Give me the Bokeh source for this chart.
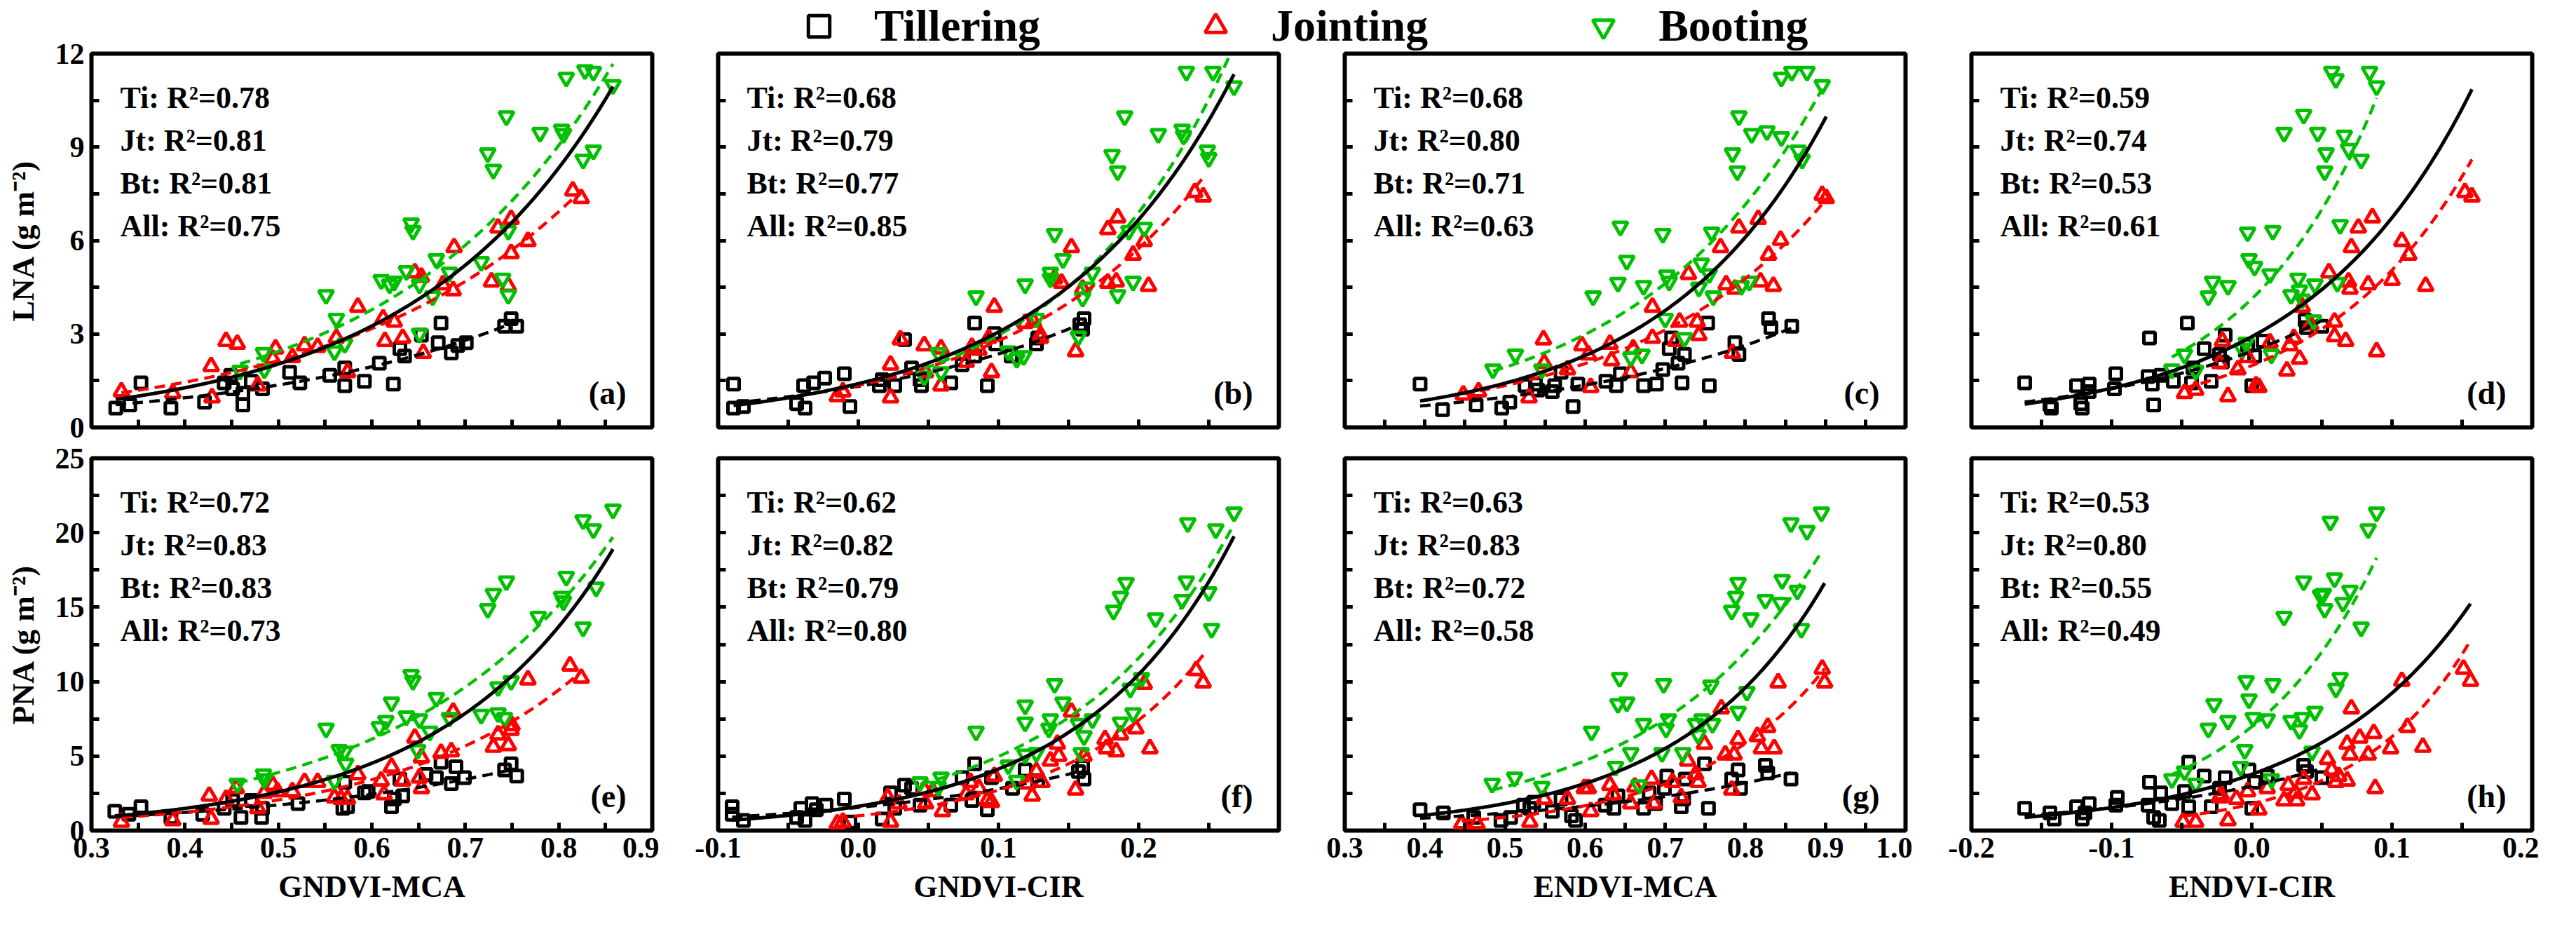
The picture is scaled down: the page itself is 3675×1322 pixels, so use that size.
import numpy as np
from bokeh.plotting import figure
from bokeh.layouts import column, row
from bokeh.models import (Label, Legend, LegendItem, SingleIntervalTicker,
                          NumeralTickFormatter, CustomJSTickFormatter)
from bokeh.embed import file_html
from bokeh.resources import INLINE

FONT = "Liberation Serif"
C_TI, C_JT, C_BT = "black", "#FF0000", "#00C000"

# ---------------- data (x, y) ----------------
# (a) LNA vs GNDVI-MCA
a_ti = [(0.326,0.62),(0.341,0.72),(0.353,1.43),(0.385,0.62),(0.421,0.81),(0.442,1.43),(0.449,1.67),(0.451,1.24),
        (0.462,0.72),(0.462,1.10),(0.471,1.48),(0.483,1.24),(0.512,1.77),(0.523,1.43),(0.555,1.67),(0.571,1.91),
        (0.571,1.34),(0.592,1.48),(0.608,2.06),(0.623,1.39),(0.630,2.53),(0.635,2.29),(0.653,2.96),(0.671,2.72),
        (0.674,3.35),(0.685,2.39),(0.692,2.63),(0.701,2.72),(0.742,3.25),(0.749,3.49),(0.755,3.25)]
a_jt = [(0.332,1.15),(0.387,1.10),(0.428,1.96),(0.429,0.96),(0.444,2.77),(0.456,2.68),(0.478,1.34),(0.494,2.20),
        (0.497,2.53),(0.515,2.25),(0.528,2.63),(0.542,2.58),(0.562,2.87),(0.574,1.77),(0.585,3.87),(0.612,3.49),
        (0.614,2.77),(0.624,3.39),(0.633,2.87),(0.646,4.97),(0.653,4.83),(0.655,2.39),(0.676,4.59),(0.687,4.40),
        (0.688,5.78),(0.728,4.68),(0.735,6.41),(0.749,5.59),(0.749,6.69),(0.746,4.54),(0.767,5.98),(0.815,7.60),
        (0.824,7.36)]
a_bt = [(0.459,1.82),(0.484,2.39),(0.485,1.86),(0.551,4.25),(0.562,3.49),(0.560,2.44),(0.571,2.68),(0.610,4.73),
        (0.619,4.59),(0.624,4.68),(0.637,5.02),(0.642,6.55),(0.644,6.31),(0.651,4.59),(0.651,3.01),(0.665,4.21),
        (0.669,5.40),(0.683,4.97),(0.717,5.31),(0.724,8.80),(0.730,8.27),(0.740,4.78),(0.744,9.99),(0.746,4.25),
        (0.746,6.31),(0.780,9.46),(0.803,9.56),(0.805,9.42),(0.808,11.23),(0.828,11.47),(0.837,11.42),(0.826,8.60),
        (0.837,8.89),(0.858,10.99)]

# (b) LNA vs GNDVI-CIR
b_ti = [(-0.089,1.39),(-0.089,0.62),(-0.082,0.67),(-0.044,0.76),(-0.039,1.34),(-0.038,0.62),(-0.032,1.43),
        (-0.024,1.58),(-0.010,1.72),(-0.006,0.67),(0.015,1.34),(0.017,1.53),(0.026,1.34),(0.033,2.82),(0.038,1.91),
        (0.045,1.34),(0.044,1.53),(0.066,1.43),(0.074,2.01),(0.083,3.35),(0.083,2.29),(0.092,1.34),(0.097,3.01),
        (0.098,2.68),(0.109,2.29),(0.127,2.68),(0.128,2.87),(0.158,3.30),(0.161,3.49),(0.160,3.15)]
b_jt = [(-0.015,1.00),(-0.011,1.15),(0.023,2.01),(0.023,0.96),(0.030,2.82),(0.047,2.63),(0.048,1.77),(0.059,2.53),
        (0.059,1.34),(0.077,2.10),(0.081,2.58),(0.086,2.49),(0.093,2.87),(0.095,1.77),(0.097,3.87),(0.119,3.35),
        (0.125,3.39),(0.130,2.96),(0.130,2.87),(0.140,4.78),(0.145,4.64),(0.152,5.78),(0.155,2.44),(0.160,4.45),
        (0.178,4.64),(0.178,6.36),(0.184,4.68),(0.185,6.74),(0.196,5.54),(0.204,5.98),(0.207,4.54),(0.240,7.55),
        (0.246,7.41)]
b_bt = [(0.047,1.63),(0.057,2.39),(0.059,1.77),(0.084,4.21),(0.107,2.44),(0.113,2.20),(0.118,2.29),(0.119,4.59),
        (0.127,3.49),(0.137,4.97),(0.137,4.78),(0.140,6.21),(0.146,5.40),(0.157,2.92),(0.160,4.16),(0.163,4.49),
        (0.167,4.97),(0.181,8.75),(0.185,8.22),(0.185,4.25),(0.190,9.99),(0.193,6.31),(0.196,4.68),(0.204,6.41),
        (0.214,9.42),(0.231,9.56),(0.232,9.37),(0.234,11.42),(0.249,8.89),(0.250,8.65),(0.253,11.42),(0.268,10.95)]

# (c) LNA vs ENDVI-MCA
c_ti = [(0.394,1.39),(0.422,0.57),(0.464,0.72),(0.496,0.62),(0.506,0.81),(0.525,1.34),(0.538,1.39),(0.541,1.20),
        (0.559,1.15),(0.562,1.34),(0.570,1.77),(0.585,0.67),(0.591,1.39),(0.626,1.48),(0.639,1.34),(0.644,1.72),
        (0.673,1.34),(0.689,1.39),(0.697,1.86),(0.705,2.53),(0.708,2.87),(0.716,2.06),(0.724,2.34),(0.721,1.43),
        (0.753,3.35),(0.755,1.34),(0.787,2.72),(0.792,2.34),(0.829,3.49),(0.832,3.20),(0.858,3.25)]
c_jt = [(0.448,1.05),(0.467,1.15),(0.530,0.96),(0.548,2.82),(0.549,2.06),(0.578,1.86),(0.596,2.63),(0.604,2.34),
        (0.607,1.29),(0.631,2.68),(0.633,2.15),(0.657,1.77),(0.660,2.53),(0.684,3.87),(0.684,2.87),(0.713,2.77),
        (0.718,3.39),(0.729,4.92),(0.740,3.39),(0.742,2.96),(0.769,5.78),(0.776,4.59),(0.784,2.39),(0.787,4.45),
        (0.792,6.41),(0.816,6.69),(0.819,4.68),(0.829,5.54),(0.835,4.54),(0.844,6.02),(0.896,7.46),(0.901,7.36)]
c_bt = [(0.485,1.86),(0.513,2.34),(0.546,1.86),(0.610,4.21),(0.641,4.64),(0.644,6.45),(0.652,5.35),(0.657,2.25),
        (0.671,2.34),(0.673,4.54),(0.697,6.21),(0.700,3.49),(0.702,4.88),(0.705,4.68),(0.724,2.87),(0.742,4.49),
        (0.745,5.26),(0.755,4.92),(0.758,6.26),(0.760,4.21),(0.784,8.80),(0.790,8.22),(0.792,9.99),(0.795,4.54),
        (0.805,4.68),(0.808,9.42),(0.827,9.51),(0.845,11.23),(0.845,9.32),(0.858,11.42),(0.866,8.89),(0.871,8.60),
        (0.877,11.42),(0.896,10.99)]

# (d) LNA vs ENDVI-CIR
d_ti = [(-0.162,1.43),(-0.144,0.72),(-0.143,0.62),(-0.125,1.34),(-0.122,0.76),(-0.121,0.62),(-0.116,1.39),
        (-0.116,1.15),(-0.097,1.72),(-0.098,1.24),(-0.074,1.63),(-0.073,2.87),(-0.071,1.39),(-0.070,0.72),
        (-0.065,1.67),(-0.056,1.48),(-0.046,3.35),(-0.042,1.91),(-0.043,1.43),(-0.034,2.53),(-0.029,1.48),
        (-0.023,2.34),(-0.021,2.10),(-0.019,2.96),(-0.003,2.63),(0.000,1.34),(0.002,2.29),(0.008,2.77),
        (0.038,3.44),(0.039,3.20),(0.050,3.25)]
d_jt = [(-0.048,1.10),(-0.040,1.20),(-0.023,2.06),(-0.021,2.77),(-0.017,1.00),(-0.010,1.86),(-0.003,2.25),
        (0.003,1.34),(0.005,1.29),(0.013,2.72),(0.025,1.82),(0.027,2.63),(0.030,2.87),(0.034,2.20),(0.036,3.87),
        (0.042,3.30),(0.055,4.97),(0.059,2.92),(0.059,3.39),(0.067,2.77),(0.069,4.68),(0.070,4.45),(0.071,5.78),
        (0.076,6.41),(0.083,4.59),(0.086,6.74),(0.089,2.44),(0.100,4.73),(0.107,5.98),(0.112,5.54),(0.124,4.54),
        (0.152,7.55),(0.157,7.41)]
d_bt = [(-0.057,1.86),(-0.048,2.34),(-0.040,1.82),(-0.031,4.21),(-0.028,4.68),(-0.017,4.54),(-0.007,2.53),
        (-0.004,2.72),(-0.003,6.26),(-0.002,5.40),(0.002,5.16),(0.013,4.92),(0.014,2.34),(0.015,6.31),(0.023,9.46),
        (0.028,4.25),(0.033,4.78),(0.034,4.40),(0.036,4.11),(0.037,10.04),(0.044,3.44),(0.045,4.59),(0.047,9.46),
        (0.052,8.22),(0.053,8.80),(0.057,11.42),(0.060,11.18),(0.061,4.64),(0.063,6.50),(0.066,9.37),(0.069,8.94),
        (0.078,8.60),(0.084,11.42),(0.089,10.95)]

# (e) PNA vs GNDVI-MCA
e_ti = [(0.325,1.30),(0.340,1.09),(0.353,1.60),(0.385,0.88),(0.419,1.09),(0.442,1.50),(0.451,2.02),(0.460,0.88),
        (0.471,2.02),(0.482,0.88),(0.483,1.50),(0.521,1.81),(0.569,1.50),(0.571,3.25),(0.574,1.60),(0.592,2.53),
        (0.596,2.63),(0.621,1.60),(0.624,2.12),(0.633,2.33),(0.630,3.46),(0.658,3.77),(0.669,3.56),(0.674,4.59),
        (0.685,3.15),(0.690,4.28),(0.699,3.56),(0.742,4.07),(0.749,4.49),(0.755,3.66)]
e_jt = [(0.332,0.58),(0.387,0.68),(0.426,2.33),(0.428,0.78),(0.444,2.12),(0.455,2.84),(0.478,1.50),(0.485,2.53),
        (0.494,3.05),(0.499,2.63),(0.515,2.63),(0.528,3.25),(0.542,3.25),(0.560,2.22),(0.567,2.12),(0.574,2.12),
        (0.585,3.77),(0.610,3.35),(0.613,2.43),(0.621,4.28),(0.633,3.35),(0.646,6.23),(0.651,3.56),(0.653,2.84),
        (0.653,4.90),(0.674,5.21),(0.687,7.98),(0.685,5.31),(0.730,5.62),(0.735,6.44),(0.746,5.72),(0.749,6.75),
        (0.750,7.06),(0.767,10.14),(0.812,11.07),(0.824,10.25)]
e_bt = [(0.456,3.15),(0.484,3.77),(0.485,3.46),(0.551,6.85),(0.560,3.35),(0.565,5.41),(0.571,5.31),(0.572,4.49),
        (0.608,6.95),(0.615,7.37),(0.621,8.60),(0.637,7.67),(0.642,10.45),(0.644,10.04),(0.649,5.41),(0.651,7.47),
        (0.662,6.65),(0.669,8.91),(0.683,7.57),(0.717,7.78),(0.724,14.88),(0.730,15.90),(0.735,7.88),(0.735,9.63),
        (0.742,7.57),(0.744,16.73),(0.749,10.04),(0.778,14.36),(0.803,15.70),(0.808,17.04),(0.805,15.39),
        (0.826,13.64),(0.826,20.84),(0.837,20.23),(0.840,16.32),(0.858,21.56)]

# (f) PNA vs GNDVI-CIR
f_ti = [(-0.090,1.60),(-0.090,1.09),(-0.082,0.68),(-0.044,0.88),(-0.041,1.50),(-0.038,0.68),(-0.033,1.81),
        (-0.030,1.40),(-0.023,1.71),(-0.010,2.12),(-0.006,0.58),(0.017,0.78),(0.023,2.53),(0.026,1.50),(0.033,3.05),
        (0.038,2.84),(0.044,1.71),(0.066,1.71),(0.074,3.56),(0.081,2.02),(0.083,4.49),(0.092,1.40),(0.095,3.56),
        (0.110,2.84),(0.119,4.07),(0.128,3.35),(0.157,3.97),(0.160,4.28),(0.161,3.46)]
f_jt = [(-0.015,0.47),(-0.011,0.58),(0.021,2.22),(0.023,0.58),(0.029,1.81),(0.047,2.74),(0.048,1.81),(0.053,2.63),
        (0.060,1.30),(0.077,2.43),(0.080,3.25),(0.086,2.84),(0.092,2.02),(0.095,1.91),(0.097,3.66),(0.121,3.15),
        (0.124,2.33),(0.127,3.97),(0.131,3.25),(0.137,4.69),(0.142,5.82),(0.143,5.00),(0.152,7.98),(0.155,2.74),
        (0.161,5.00),(0.176,6.13),(0.177,5.51),(0.184,5.31),(0.187,6.44),(0.198,6.85),(0.204,9.84),(0.208,5.51),
        (0.241,10.76),(0.246,9.94)]
f_bt = [(0.044,3.25),(0.057,2.94),(0.059,3.56),(0.084,6.65),(0.107,4.38),(0.113,3.35),(0.119,5.10),(0.119,7.26),
        (0.119,8.40),(0.127,5.21),(0.136,6.85),(0.137,7.47),(0.140,9.84),(0.146,8.60),(0.157,7.16),(0.159,5.21),
        (0.161,6.34),(0.167,7.47),(0.182,14.77),(0.187,15.70),(0.187,7.26),(0.191,16.63),(0.194,9.53),(0.196,7.88),
        (0.202,10.25),(0.212,14.25),(0.231,15.49),(0.234,16.73),(0.235,20.64),(0.250,16.01),(0.252,13.54),
        (0.255,20.23),(0.268,21.36)]

# (g) PNA vs ENDVI-MCA
g_ti = [(0.394,1.40),(0.423,1.19),(0.461,0.88),(0.495,0.68),(0.507,0.88),(0.523,1.71),(0.531,1.50),(0.536,1.91),
        (0.559,1.30),(0.570,2.12),(0.583,0.99),(0.588,0.68),(0.625,1.71),(0.636,1.50),(0.641,2.33),(0.673,1.50),
        (0.680,2.53),(0.688,1.81),(0.699,2.84),(0.702,3.66),(0.720,1.60),(0.723,2.12),(0.725,3.46),(0.749,4.49),
        (0.754,1.50),(0.783,3.46),(0.791,4.07),(0.794,2.84),(0.825,4.38),(0.828,3.87),(0.857,3.46)]
g_jt = [(0.446,0.47),(0.465,0.47),(0.531,0.58),(0.549,2.12),(0.578,2.12),(0.599,2.84),(0.604,2.84),(0.607,1.30),
        (0.631,3.05),(0.635,2.43),(0.657,1.81),(0.662,2.94),(0.683,3.46),(0.686,1.81),(0.709,3.25),(0.720,2.22),
        (0.728,4.69),(0.738,3.77),(0.741,3.25),(0.749,5.82),(0.770,8.19),(0.775,5.10),(0.783,2.74),(0.786,5.10),
        (0.791,6.13),(0.815,6.34),(0.820,5.51),(0.828,6.95),(0.836,5.51),(0.841,9.94),(0.896,10.86),(0.899,9.94)]
g_bt = [(0.484,3.15),(0.512,3.56),(0.546,2.94),(0.608,6.65),(0.638,4.28),(0.641,8.50),(0.643,10.25),(0.652,8.60),
        (0.657,5.21),(0.667,3.05),(0.673,7.16),(0.696,5.21),(0.698,9.84),(0.701,6.85),(0.704,7.47),(0.722,5.21),
        (0.738,7.16),(0.741,6.44),(0.746,7.47),(0.757,9.74),(0.759,7.16),(0.783,14.77),(0.788,15.70),(0.791,16.63),
        (0.791,7.98),(0.802,9.32),(0.807,14.25),(0.825,15.49),(0.844,15.29),(0.846,16.83),(0.857,20.64),
        (0.865,16.11),(0.870,13.54),(0.877,20.12),(0.895,21.36)]

# (h) PNA vs ENDVI-CIR
h_ti = [(-0.162,1.50),(-0.144,1.19),(-0.141,0.78),(-0.125,1.60),(-0.121,0.78),(-0.119,1.19),(-0.116,1.81),
        (-0.097,1.71),(-0.096,2.22),(-0.074,1.71),(-0.073,3.25),(-0.070,0.88),(-0.066,0.68),(-0.065,2.53),
        (-0.057,1.81),(-0.048,2.63),(-0.045,4.59),(-0.045,1.60),(-0.034,3.66),(-0.029,1.60),(-0.023,2.84),
        (-0.019,3.56),(-0.002,4.07),(0.000,1.50),(0.002,3.25),(0.011,3.66),(0.037,4.38),(0.039,3.97),(0.050,3.56)]
h_jt = [(-0.049,0.58),(-0.040,0.58),(-0.023,2.22),(-0.022,2.43),(-0.017,0.68),(-0.011,2.12),(-0.003,2.63),
        (0.005,1.40),(0.011,2.84),(0.023,2.02),(0.026,3.05),(0.031,2.53),(0.032,2.02),(0.037,3.46),(0.043,2.43),
        (0.054,4.79),(0.057,4.07),(0.060,3.25),(0.062,3.66),(0.068,3.35),(0.068,5.82),(0.070,5.10),(0.071,8.19),
        (0.077,6.23),(0.083,5.10),(0.087,6.54),(0.088,2.84),(0.099,5.51),(0.107,10.04),(0.111,6.95),(0.122,5.62),
        (0.151,10.86),(0.156,10.04)]
h_bt = [(-0.057,3.46),(-0.048,3.97),(-0.040,3.15),(-0.031,6.85),(-0.027,8.50),(-0.017,7.37),(-0.008,4.28),
        (-0.005,5.41),(-0.004,10.04),(-0.002,8.81),(0.001,7.57),(0.011,7.47),(0.014,3.46),(0.015,9.84),(0.023,14.36),
        (0.028,7.37),(0.034,6.75),(0.036,7.57),(0.037,16.73),(0.043,5.31),(0.045,7.98),(0.049,15.80),(0.051,15.90),
        (0.052,14.88),(0.056,20.74),(0.059,16.93),(0.060,9.53),(0.063,10.25),(0.065,15.29),(0.070,16.11),
        (0.078,13.64),(0.083,20.23),(0.089,21.36)]

# R^2 for Ti, Jt, Bt, All
r2_a = ["0.78", "0.81", "0.81", "0.75"]
r2_b = ["0.68", "0.79", "0.77", "0.85"]
r2_c = ["0.68", "0.80", "0.71", "0.63"]
r2_d = ["0.59", "0.74", "0.53", "0.61"]
r2_e = ["0.72", "0.83", "0.83", "0.73"]
r2_f = ["0.62", "0.82", "0.79", "0.80"]
r2_g = ["0.63", "0.83", "0.72", "0.58"]
r2_h = ["0.53", "0.80", "0.55", "0.49"]

x_names = ["GNDVI-MCA", "GNDVI-CIR", "ENDVI-MCA", "ENDVI-CIR"]
x_ranges = [(0.3, 0.9), (-0.1, 0.3), (0.3, 1.0), (-0.2, 0.2)]
stage_names = ["Tillering", "Jointing", "Booting"]
prefixes = ["Ti", "Jt", "Bt", "All"]
all_fit_weight = [0.5, 0.5, 0.5, 0.0]   # weighting power used for the pooled fit, per column


def expfit(pts, power=0.0):
    # y = a*exp(b*x), fitted on log(y); optional weighting by y**power
    x = np.array([p[0] for p in pts])
    y = np.array([p[1] for p in pts])
    b, ln_a = np.polyfit(x, np.log(y), 1, w=y ** power)
    xs = np.linspace(x.min(), x.max(), 120)
    return xs, np.exp(ln_a + b * xs)


def panel(col, top, ti, jt, bt, r2, letter):
    xr = x_ranges[col]
    yr = (0, 12) if top else (0, 25)
    p = figure(frame_width=800, frame_height=533 if top else 531,
               x_range=xr, y_range=yr, output_backend="svg", toolbar_location=None,
               min_border_left=130 if col == 0 else 84, min_border_right=10,
               min_border_top=26 if top else 30, min_border_bottom=30 if top else 118)
    p.grid.grid_line_color = None
    p.outline_line_color = "black"
    p.outline_line_width = 6
    p.background_fill_color = "white"
    p.border_fill_alpha = 0

    p.xaxis.ticker = SingleIntervalTicker(interval=0.1, num_minor_ticks=2)
    p.yaxis.ticker = SingleIntervalTicker(interval=3 if top else 5, num_minor_ticks=2)
    for ax in (p.xaxis, p.yaxis):
        ax.axis_line_color = None
        ax.major_tick_in = 11
        ax.major_tick_out = 0
        ax.minor_tick_in = 11
        ax.minor_tick_out = 0
        ax.major_tick_line_width = 5
        ax.minor_tick_line_width = 5
        ax.major_tick_line_color = "black"
        ax.minor_tick_line_color = "black"
        ax.major_label_text_font = FONT
        ax.major_label_text_font_style = "bold"
        ax.major_label_text_font_size = "42px"
        ax.major_label_text_color = "black"
        ax.major_label_standoff = 10
        ax.axis_label_text_font = FONT
        ax.axis_label_text_font_style = "bold"
        ax.axis_label_text_font_size = "44px"
        ax.axis_label_text_color = "black"

    if top:
        p.xaxis.formatter = CustomJSTickFormatter(code="return ''")
        p.xaxis.major_label_text_font_size = "0px"
        p.xaxis.major_label_standoff = 0
    else:
        p.xaxis.formatter = NumeralTickFormatter(format="0.0")
        p.xaxis.axis_label = x_names[col]
        p.xaxis.axis_label_standoff = 14
    if col == 0:
        p.yaxis.formatter = NumeralTickFormatter(format="0")
        p.yaxis.axis_label = "LNA (g m\u207b\u00b2)" if top else "PNA (g m\u207b\u00b2)"
        p.yaxis.axis_label_standoff = 18
    else:
        p.yaxis.formatter = CustomJSTickFormatter(code="return ''")
        p.yaxis.major_label_text_font_size = "0px"
        p.yaxis.major_label_standoff = 0

    # markers
    p.scatter([q[0] for q in ti], [q[1] for q in ti], marker="square", size=16,
              fill_color=None, line_color=C_TI, line_width=5)
    p.scatter([q[0] for q in jt], [q[1] for q in jt], marker="triangle", size=21,
              fill_color=None, line_color=C_JT, line_width=5)
    p.scatter([q[0] for q in bt], [q[1] for q in bt], marker="inverted_triangle", size=21,
              fill_color=None, line_color=C_BT, line_width=5)

    # exponential fits: dashed per stage, solid for all data
    for pts, c in ((ti, C_TI), (jt, C_JT), (bt, C_BT)):
        xs, ys = expfit(pts)
        p.line(xs, ys, line_color=c, line_width=4.5, line_dash="15 9")
    xs, ys = expfit(ti + jt + bt, power=all_fit_weight[col])
    p.line(xs, ys, line_color="black", line_width=5)

    # R2 annotations
    for i, (pre, v) in enumerate(zip(prefixes, r2)):
        p.add_layout(Label(x=xr[0], y=yr[1], x_offset=41, y_offset=-63 - 61 * i,
                           text=f"{pre}: R\u00b2={v}", text_font=FONT, text_font_style="bold",
                           text_font_size="44px", text_color="black", text_baseline="alphabetic"))
    p.add_layout(Label(x=xr[1], y=yr[0], x_offset=-37, y_offset=49, text=f"({letter})",
                       text_font=FONT, text_font_style="bold", text_font_size="46px",
                       text_color="black", text_align="right", text_baseline="alphabetic"))
    return p


top_row = [panel(0, True, a_ti, a_jt, a_bt, r2_a, "a"),
           panel(1, True, b_ti, b_jt, b_bt, r2_b, "b"),
           panel(2, True, c_ti, c_jt, c_bt, r2_c, "c"),
           panel(3, True, d_ti, d_jt, d_bt, r2_d, "d")]
bot_row = [panel(0, False, e_ti, e_jt, e_bt, r2_e, "e"),
           panel(1, False, f_ti, f_jt, f_bt, r2_f, "f"),
           panel(2, False, g_ti, g_jt, g_bt, r2_g, "g"),
           panel(3, False, h_ti, h_jt, h_bt, r2_h, "h")]

# legend strip (one hidden point per stage, outside the visible range, so the legend has glyphs)
lf = figure(frame_width=3622, frame_height=100, x_range=(0, 1), y_range=(0, 1),
            output_backend="svg", toolbar_location=None,
            min_border_left=0, min_border_right=0, min_border_top=0, min_border_bottom=0)
lf.axis.visible = False
lf.grid.grid_line_color = None
lf.outline_line_color = None
lf.border_fill_alpha = 0
lf.background_fill_alpha = 0
r_ti = lf.scatter([-5], [-5], marker="square", size=20, fill_color=None, line_color=C_TI, line_width=5)
r_jt = lf.scatter([-5], [-5], marker="triangle", size=22, fill_color=None, line_color=C_JT, line_width=5)
r_bt = lf.scatter([-5], [-5], marker="inverted_triangle", size=22, fill_color=None, line_color=C_BT, line_width=5)
legend = Legend(items=[LegendItem(label=stage_names[0], renderers=[r_ti]),
                       LegendItem(label=stage_names[1], renderers=[r_jt]),
                       LegendItem(label=stage_names[2], renderers=[r_bt])],
                orientation="horizontal", location=(1130, 25),
                glyph_width=76, glyph_height=76, label_standoff=41, spacing=212,
                padding=0, margin=0, border_line_color=None, background_fill_alpha=0,
                label_text_font=FONT, label_text_font_style="bold",
                label_text_font_size="64px", label_text_color="black")
lf.add_layout(legend, "center")

layout = column(lf,
                row(*top_row, margin=(-50, 0, 0, 0)),
                row(*bot_row, margin=(-16, 0, 0, 0)))
open("out.html", "w").write(file_html(layout, INLINE))
